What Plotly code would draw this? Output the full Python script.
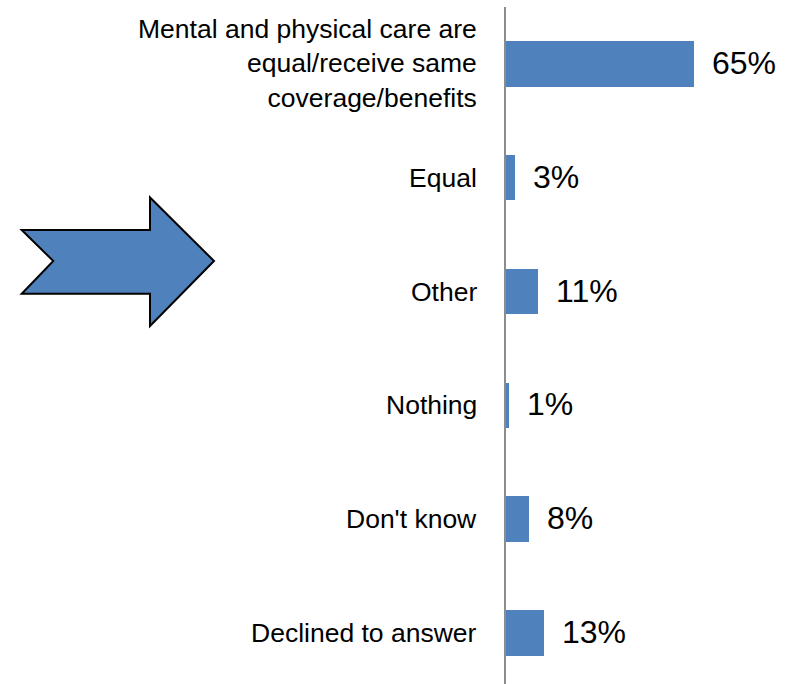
import plotly.graph_objects as go

# Survey responses, listed top to bottom
categories = [
    "Mental and physical care are<br>equal/receive same<br>coverage/benefits",
    "Equal",
    "Other",
    "Nothing",
    "Don't know",
    "Declined to answer",
]
values = [65, 3, 11, 1, 8, 13]
value_labels = [f"{v}%" for v in values]

BAR_COLOR = "#4F81BD"
FONT = "Liberation Sans, Arial, sans-serif"
W, H = 794, 684
ML, MT = 506, 7
PW, PH = W - ML, H - MT

n = len(categories)
ypos = list(range(n - 1, -1, -1))

fig = go.Figure()
fig.add_trace(go.Bar(
    x=values,
    y=ypos,
    orientation="h",
    width=0.4,
    marker=dict(color=BAR_COLOR, line=dict(width=0)),
    hoverinfo="skip",
))

# Value labels just past the end of each bar
for v, lab, y in zip(values, value_labels, ypos):
    fig.add_annotation(
        x=v, y=y, xref="x", yref="y",
        text=lab, showarrow=False,
        xanchor="left", yanchor="middle",
        xshift=16, yshift=1,
        font=dict(family=FONT, size=32, color="black"),
    )

# Category labels to the left of the axis line
for cat, y in zip(categories, ypos):
    fig.add_annotation(
        x=0, y=y, xref="x", yref="y",
        text=cat, showarrow=False,
        xanchor="right", yanchor="middle", align="right",
        xshift=-27,
        font=dict(family=FONT, size=26.5, color="black"),
    )

# Block arrow pointing at the chart (pixel outline converted to paper coords)
arrow_px = [
    (21.7, 230), (150, 230), (150, 197.5), (214, 261),
    (150, 326), (150, 293.7), (21.7, 293.7), (53.3, 261),
]


def to_paper(px, py):
    return (px - ML) / PW, (H - py) / PH


pts = [to_paper(px, py) for px, py in arrow_px]
path = "M " + " L ".join(f"{x:.5f},{y:.5f}" for x, y in pts) + " Z"
fig.add_shape(
    type="path", path=path, xref="paper", yref="paper",
    fillcolor=BAR_COLOR, line=dict(color="black", width=2),
)

x_max = PW / (188 / 65)
fig.update_layout(
    width=W, height=H,
    margin=dict(l=ML, r=0, t=MT, b=0),
    paper_bgcolor="white", plot_bgcolor="white",
    showlegend=False,
    bargap=0,
    xaxis=dict(range=[0, x_max], visible=False, fixedrange=True),
    yaxis=dict(
        range=[-0.449, n - 0.5],
        showticklabels=False, showgrid=False, zeroline=False,
        showline=True, linecolor="#8C8C8C", linewidth=2,
        ticks="", fixedrange=True,
    ),
)

fig.write_html("out.html")
